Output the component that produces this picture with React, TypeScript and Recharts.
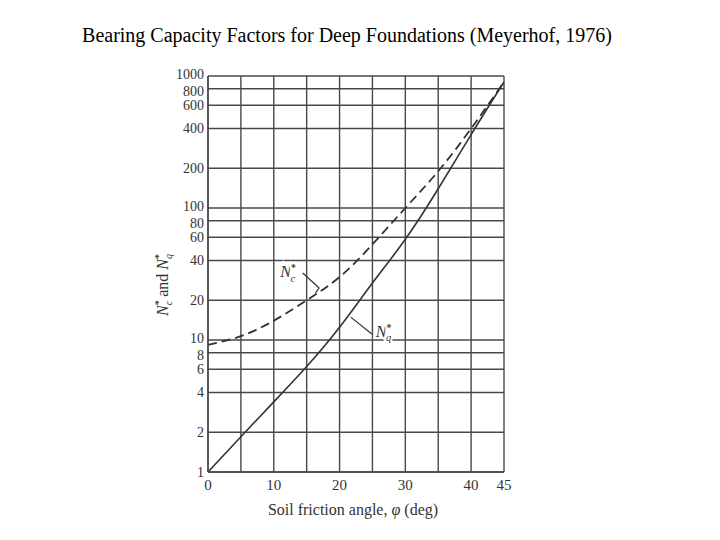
import React from "react";
import { CartesianGrid, Line, LineChart, ReferenceDot, ReferenceLine, XAxis, YAxis } from "recharts";

// friction angle (deg)
const angles = [0, 5, 10, 15, 20, 25, 30, 35, 40, 45];
// N*q (solid) and N*c (dashed)
const nqValues = [1, 1.85, 3.4, 6.3, 12.5, 27, 58, 140, 360, 900];
const ncValues = [9.2, 10.7, 14, 20, 30, 53, 100, 190, 400, 900];

const xTicks = [0, 5, 10, 15, 20, 25, 30, 35, 40, 45];
const xLabelled = [0, 10, 20, 30, 40, 45];
const yTicks = [1, 2, 4, 6, 8, 10, 20, 40, 60, 80, 100, 200, 400, 600, 800, 1000];

const data = angles.map((a, i) => ({ phi: a, nq: nqValues[i], nc: ncValues[i] }));

const SERIF = "'Liberation Serif', 'DejaVu Serif', serif";
const INK = "#333";

// the decade labels sit very close to the 8/80/800 ones, nudge them apart a little
const nudge: Record<number, number> = { 1000: -2, 800: 2, 100: -2, 80: 2, 10: -2, 8: 2 };

function YTick(props: any) {
    const v = props.payload.value;
    return (
        <text x={props.x} y={props.y + (nudge[v] || 0)} dy="0.355em" textAnchor="end" fontFamily={SERIF} fontSize={14} fill={INK}>
            {v}
        </text>
    );
}

function FactorName({ x, y, sub, size = 16 }: { x: number; y: number; sub: string; size?: number }) {
    return (
        <text x={x} y={y} fontFamily={SERIF} fontSize={size} fill={INK} stroke="#fff" strokeWidth={4} paintOrder="stroke">
            <tspan fontStyle="italic">N</tspan>
            <tspan fontSize={size * 0.6} dy={-size * 0.35} fontWeight="bold">*</tspan>
            <tspan fontSize={size * 0.65} fontStyle="italic" dx={-size * 0.33} dy={size * 0.65}>{sub}</tspan>
        </text>
    );
}

function YLabel() {
    return (
        <text x={0} y={0} transform="translate(168,285) rotate(-90)" textAnchor="middle" fontFamily={SERIF} fontSize={16} fill={INK}>
            <tspan fontStyle="italic">N</tspan>
            <tspan fontSize={10} dy={-6} fontWeight="bold">*</tspan>
            <tspan fontSize={10} fontStyle="italic" dx={-5} dy={10}>c</tspan>
            <tspan dy={-4}> and </tspan>
            <tspan fontStyle="italic">N</tspan>
            <tspan fontSize={10} dy={-6} fontWeight="bold">*</tspan>
            <tspan fontSize={10} fontStyle="italic" dx={-5} dy={10}>q</tspan>
        </text>
    );
}

export default function App() {
    return (
        <div style={{ position: "absolute", left: 0, top: 0, width: 720, height: 540, background: "#fff" }}>
            <div
                style={{
                    position: "absolute",
                    left: 0,
                    width: 694,
                    top: 23,
                    textAlign: "center",
                    fontFamily: SERIF,
                    fontSize: 20,
                    lineHeight: "24px",
                    color: "#000",
                }}
            >
                Bearing Capacity Factors for Deep Foundations (Meyerhof, 1976)
            </div>
            <LineChart width={720} height={540} data={data} margin={{ top: 76, right: 216, bottom: 38, left: 168 }}>
                <CartesianGrid stroke="#484848" strokeWidth={1.4} />
                <XAxis
                    dataKey="phi"
                    type="number"
                    domain={[0, 45]}
                    ticks={xTicks}
                    interval={0}
                    tickFormatter={(v: number) => (xLabelled.includes(v) ? String(v) : "")}
                    tickLine={false}
                    tickSize={4}
                    tickMargin={3}
                    height={30}
                    axisLine={{ stroke: "#484848", strokeWidth: 1.4 }}
                    tick={{ fontFamily: SERIF, fontSize: 15, fill: INK }}
                    label={{
                        content: () => (
                            <text x={353} y={515} textAnchor="middle" fontFamily={SERIF} fontSize={16} fill={INK}>
                                Soil friction angle, <tspan fontStyle="italic">φ</tspan> (deg)
                            </text>
                        ),
                    }}
                />
                <YAxis
                    type="number"
                    scale="log"
                    domain={[1, 1000]}
                    ticks={yTicks}
                    interval={0}
                    allowDataOverflow
                    width={40}
                    tickLine={false}
                    tickSize={3}
                    tickMargin={1}
                    axisLine={{ stroke: "#484848", strokeWidth: 1.4 }}
                    tick={<YTick />}
                    label={{ content: () => <YLabel /> }}
                />
                <Line
                    dataKey="nc"
                    type="natural"
                    stroke={INK}
                    strokeWidth={1.8}
                    strokeDasharray="9 5"
                    dot={false}
                    isAnimationActive={false}
                />
                <Line dataKey="nq" type="natural" stroke={INK} strokeWidth={1.6} dot={false} isAnimationActive={false} />
                {/* leader lines */}
                <ReferenceLine segment={[{ x: 14.4, y: 32.2 }, { x: 16.9, y: 24.8 }]} stroke={INK} strokeWidth={1.2} />
                <ReferenceLine segment={[{ x: 16.9, y: 24.8 }, { x: 16.3, y: 22.5 }]} stroke={INK} strokeWidth={1.2} />
                <ReferenceLine segment={[{ x: 21.7, y: 14.9 }, { x: 24.9, y: 11.1 }]} stroke={INK} strokeWidth={1.2} />
                <ReferenceDot x={11.0} y={30} r={0} shape={(p: any) => <FactorName x={p.cx} y={p.cy} sub="c" />} />
                <ReferenceDot x={25.5} y={10.6} r={0} shape={(p: any) => <FactorName x={p.cx} y={p.cy} sub="q" />} />
            </LineChart>
        </div>
    );
}
